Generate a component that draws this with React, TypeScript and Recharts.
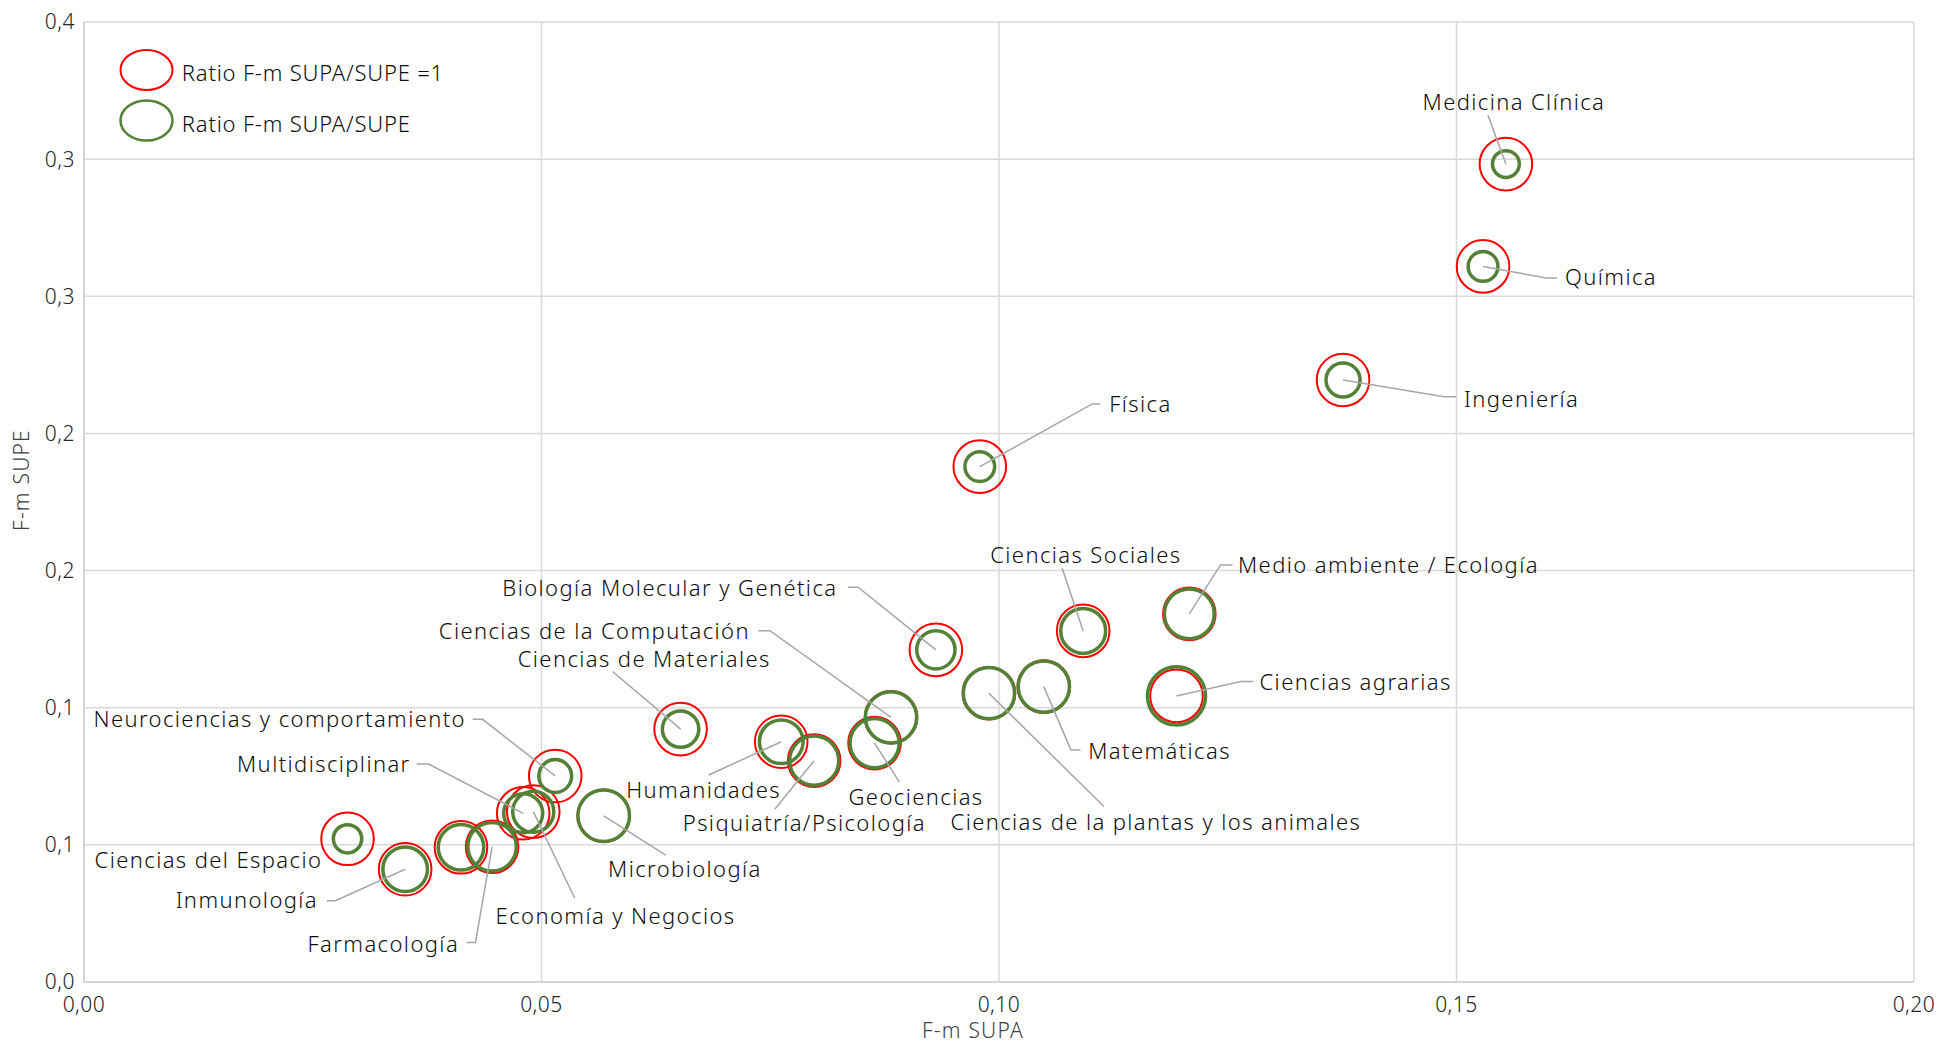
import { ScatterChart, Scatter, XAxis, YAxis, ZAxis, CartesianGrid, Legend, Label } from "recharts";

const categories = [
  "Medicina Clínica",
  "Química",
  "Ingeniería",
  "Física",
  "Ciencias Sociales",
  "Medio ambiente / Ecología",
  "Ciencias agrarias",
  "Matemáticas",
  "Ciencias de la plantas y los animales",
  "Biología Molecular y Genética",
  "Ciencias de la Computación",
  "Geociencias",
  "Humanidades",
  "Psiquiatría/Psicología",
  "Ciencias de Materiales",
  "Neurociencias y comportamiento",
  "Microbiología",
  "Multidisciplinar",
  "Economía y Negocios",
  "Farmacología",
  "Biología y Bioquímica",
  "Inmunología",
  "Ciencias del Espacio",
];

// F-m SUPA (x)
const fmSupa = [
  0.1554, 0.1529, 0.1376, 0.0979, 0.1092, 0.1208, 0.1194, 0.1049, 0.0989, 0.0931, 0.0882, 0.0864,
  0.0762, 0.0798, 0.0652, 0.0515, 0.0568, 0.048, 0.0491, 0.0446, 0.0412, 0.0351, 0.0288,
];

// F-m SUPE (y)
const fmSupe = [
  0.2982, 0.2609, 0.2195, 0.1879, 0.128, 0.1342, 0.1043, 0.1077, 0.1053, 0.1211, 0.0965, 0.0871,
  0.0876, 0.0807, 0.0922, 0.0751, 0.0606, 0.0615, 0.0621, 0.0493, 0.0491, 0.0411, 0.0522,
];

// ratio F-m SUPA/SUPE (bubble size)
const ratioSupaSupe = [
  0.26, 0.32, 0.42, 0.32, 0.73, 0.9, 1.22, 0.95, 0.95, 0.53, 0.95, 0.87,
  0.69, 0.87, 0.48, 0.39, 0.96, 0.55, 0.61, 0.85, 0.75, 0.72, 0.29,
];
const referenceRatio = 1;

const seriesNames = ["Ratio F-m SUPA/SUPE =1", "Ratio F-m SUPA/SUPE"];
const seriesColors = ["#ff0000", "#538135"];

const xTicks = [0, 0.05, 0.1, 0.15, 0.2];
const xTickLabels = ["0,00", "0,05", "0,10", "0,15", "0,20"];
const yTicks = [0, 0.05, 0.1, 0.15, 0.2, 0.25, 0.3, 0.35];
const yTickLabels = ["0,0", "0,1", "0,1", "0,2", "0,2", "0,3", "0,3", "0,4"];

// label placement relative to the bubble centre (px) + leader line
type LabelPos = { dx: number; dy: number; anchor: "start" | "middle" | "end"; line: number[][] } | null;
const labelLayout: LabelPos[] = [
  { dx: 8, dy: -63, anchor: "middle", line: [[0, 0], [-18, -49]] },
  { dx: 82, dy: 10, anchor: "start", line: [[0, 0], [63, 11.6], [74, 11.6]] },
  { dx: 121, dy: 18, anchor: "start", line: [[0, 0], [101, 16.7], [113, 16.7]] },
  { dx: 129.5, dy: -63.4, anchor: "start", line: [[0, 0], [112.5, -62.7], [120.5, -62.7]] },
  { dx: 2.7, dy: -77, anchor: "middle", line: [[0, 0], [-21, -62.7]] },
  { dx: 48.7, dy: -49.7, anchor: "start", line: [[0, 0], [31.2, -49], [43.2, -49]] },
  { dx: 83, dy: -15, anchor: "start", line: [[0, 0], [64.3, -14.3], [76.8, -14.3]] },
  { dx: 44.4, dy: 63.3, anchor: "start", line: [[0, 0], [27, 63.3], [36.7, 63.3]] },
  { dx: 167, dy: 127.4, anchor: "middle", line: [[0, 0], [115, 113.4]] },
  { dx: -98.4, dy: -62.7, anchor: "end", line: [[0, 0], [-77.8, -62.7], [-87.8, -62.7]] },
  { dx: -141, dy: -87.3, anchor: "end", line: [[0, 0], [-121.1, -86.6], [-132.7, -86.6]] },
  { dx: 41.5, dy: 53.4, anchor: "middle", line: [[0, 0], [24.9, 39]] },
  { dx: -77.7, dy: 47.6, anchor: "middle", line: [[0, 0], [-72.5, 33.3]] },
  { dx: -9.8, dy: 61, anchor: "middle", line: [[0, 0], [-39.4, 48.6]] },
  { dx: -36.3, dy: -71, anchor: "middle", line: [[0, 0], [-68, -57.6]] },
  { dx: -89.2, dy: -57.7, anchor: "end", line: [[0, 0], [-72.7, -56.7], [-82.5, -56.7]] },
  { dx: 81.2, dy: 52.3, anchor: "middle", line: [[0, 0], [62, 39.3]] },
  { dx: -112.5, dy: -50, anchor: "end", line: [[0, 0], [-94.6, -49.3], [-106.6, -49.3]] },
  { dx: 82.3, dy: 103.4, anchor: "middle", line: [[0, 0], [41.5, 86.6]] },
  { dx: -33, dy: 96, anchor: "end", line: [[0, 0], [-16.6, 95.6], [-25.6, 95.6]] },
  null,
  { dx: -87.1, dy: 30, anchor: "end", line: [[0, 0], [-69.7, 31.4], [-78.2, 31.4]] },
  { dx: -25.2, dy: 20.3, anchor: "end", line: [] },
];

const referenceData = categories.map((name, i) => ({ i, name, x: fmSupa[i], y: fmSupe[i], z: referenceRatio }));
const ratioData = categories.map((name, i) => ({ i, name, x: fmSupa[i], y: fmSupe[i], z: ratioSupaSupe[i] }));

const textStyle = { fontSize: 22, letterSpacing: 1.4, fontWeight: 300 };
const legendTextStyle = { fontSize: 22, letterSpacing: 0.8, fontWeight: 300 };

const bubble = (color: string, sw: number) => (props: any) => {
  const { cx, cy, width, size } = props;
  if (cx == null || cy == null) return <g />;
  const r = width != null ? width / 2 : Math.sqrt((size || 0) / Math.PI);
  return <circle cx={cx} cy={cy} r={r} fill="none" stroke={color} strokeWidth={sw} />;
};

function LeaderLabel(props: any) {
  const { cx, cy, payload } = props;
  const pos = labelLayout[payload?.i];
  if (!pos || cx == null) return <g />;
  const pts = pos.line.map(([a, b]) => `${cx + a},${cy + b}`).join(" ");
  return (
    <g>
      {pos.line.length > 1 && <polyline points={pts} fill="none" stroke="#a6a6a6" strokeWidth={1.5} />}
      <text x={cx + pos.dx} y={cy + pos.dy} textAnchor={pos.anchor} dominantBaseline="central" style={textStyle} fill="#0d0d0d">
        {payload.name}
      </text>
    </g>
  );
}

function LegendBox() {
  return (
    <svg width={380} height={110}>
      {seriesNames.map((n, k) => (
        <g key={n}>
          <ellipse cx={31.5} cy={25 + k * 50.5} rx={26} ry={20} fill="none" stroke={seriesColors[k]} strokeWidth={k ? 2.5 : 2} />
          <text x={66.8} y={27 + k * 50.5} dominantBaseline="central" style={legendTextStyle} fill="#0d0d0d">
            {n}
          </text>
        </g>
      ))}
    </svg>
  );
}

export default function App() {
  return (
    <div style={{ position: "absolute", left: 0, top: 0, width: 1939, height: 1045, background: "#fff", fontFamily: "'Noto Sans', sans-serif" }}>
      <ScatterChart width={1939} height={1045} margin={{ top: 22, right: 25, left: 0, bottom: 0 }}>
        <CartesianGrid stroke="#d9d9d9" strokeWidth={1.5} />
        <XAxis
          type="number"
          dataKey="x"
          domain={[0, 0.2]}
          ticks={xTicks}
          tickFormatter={(v, i) => xTickLabels[i] ?? String(v)}
          height={63}
          axisLine={{ stroke: "#d0d0d0", strokeWidth: 1.5 }}
          tickLine={false}
          tickSize={0}
          tickMargin={15}
          tick={{ fill: "#262626", fontSize: 21, fontWeight: 300, letterSpacing: 0.5 }}
        >
          <Label
            content={({ viewBox }: any) => (
              <text x={viewBox.x + viewBox.width / 2 - 26} y={viewBox.y + 48} textAnchor="middle" dominantBaseline="central" style={{ fontSize: 21, fontWeight: 300, letterSpacing: 1.2 }} fill="#404040">
                F-m SUPA
              </text>
            )}
          />
        </XAxis>
        <YAxis
          type="number"
          dataKey="y"
          domain={[0, 0.35]}
          ticks={yTicks}
          tickFormatter={(v, i) => yTickLabels[i] ?? String(v)}
          width={84}
          axisLine={{ stroke: "#d0d0d0", strokeWidth: 1.5 }}
          tickLine={false}
          tickSize={0}
          tickMargin={9}
          tick={{ fill: "#262626", fontSize: 21, fontWeight: 300, letterSpacing: 0.5 }}
        >
          <Label
            content={({ viewBox }: any) => {
              const x = viewBox.x + 21;
              const y = viewBox.y + viewBox.height / 2 - 22;
              return (
                <text x={x} y={y} transform={`rotate(-90 ${x} ${y})`} textAnchor="middle" dominantBaseline="central" style={{ fontSize: 21, fontWeight: 300, letterSpacing: 1.2 }} fill="#404040">
                  F-m SUPE
                </text>
              );
            }}
          />
        </YAxis>
        <ZAxis type="number" dataKey="z" domain={[0, 1.25]} range={[0, 2716]} />
        <Legend
          layout="vertical"
          align="center"
          verticalAlign="middle"
          wrapperStyle={{ left: 115, top: 45, width: 380, height: 110 }}
          content={() => <LegendBox />}
        />
        <Scatter name={seriesNames[0]} data={referenceData} shape={bubble(seriesColors[0], 2)} isAnimationActive={false} />
        <Scatter name={seriesNames[1]} data={ratioData} shape={bubble(seriesColors[1], 3.5)} isAnimationActive={false} />
        <Scatter name="labels" data={ratioData} shape={LeaderLabel} legendType="none" isAnimationActive={false} />
      </ScatterChart>
    </div>
  );
}
